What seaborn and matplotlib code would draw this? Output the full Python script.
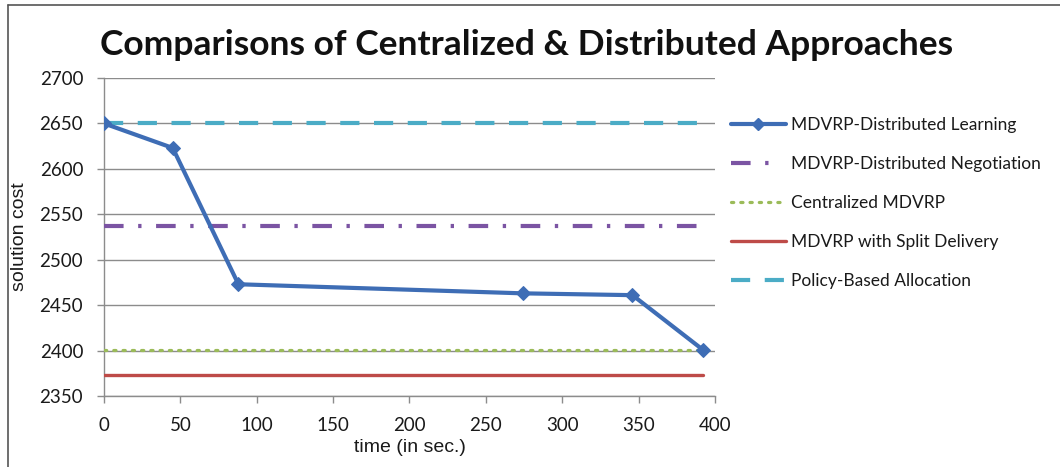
import matplotlib
matplotlib.use("Agg")
import matplotlib.pyplot as plt
import seaborn as sns
import pandas as pd
from matplotlib.lines import Line2D

# ---- data ----
learn_time = [0, 45, 88, 274, 346, 392]
learn_cost = [2650, 2623, 2473, 2463, 2461, 2401]
span_time = [0, 392]
negotiation_cost = 2537
centralized_cost = 2401
split_cost = 2373
policy_cost = 2650
series_names = ["MDVRP-Distributed Learning", "MDVRP-Distributed Negotiation",
                "Centralized MDVRP", "MDVRP with Split Delivery", "Policy-Based Allocation"]
x_ticks = [0, 50, 100, 150, 200, 250, 300, 350, 400]
y_ticks = [2350, 2400, 2450, 2500, 2550, 2600, 2650, 2700]
title = "Comparisons of Centralized & Distributed Approaches"

sns.set_theme(style="white")
plt.rcParams['font.family'] = ['Lato', 'DejaVu Sans']

fig = plt.figure(figsize=(10.6, 4.67), dpi=100)
ax = fig.add_axes([0.0981, 0.152, 0.5764, 0.681])

c_learn = "#3E6DB5"
c_neg = "#7B54A3"
c_cen = "#9BBB59"
c_split = "#BE4B48"
c_pol = "#4BACC6"

df_learn = pd.DataFrame({"t": learn_time, "c": learn_cost})
sns.lineplot(data=df_learn, x="t", y="c", ax=ax, color=c_learn, lw=3.0,
             marker="D", markersize=7, markeredgecolor=c_learn, zorder=5)

def hline(val, color, lw, dashes, z):
    d = pd.DataFrame({"t": span_time, "c": [val] * len(span_time)})
    sns.lineplot(data=d, x="t", y="c", ax=ax, color=color, lw=lw, zorder=z)
    ln = ax.lines[-1]
    if dashes is not None:
        ln.set_dashes(dashes)
    ln.set_dash_capstyle("butt")
    return ln

l_neg = hline(negotiation_cost, c_neg, 3.0, (4.7, 3.5, 0.8, 3.5), 3)
l_cen = hline(centralized_cost, c_cen, 2.3, (0.7, 2.2), 3)
l_split = hline(split_cost, c_split, 2.4, None, 3)
l_pol = hline(policy_cost, c_pol, 3.0, (4.6, 3.5), 3)
l_cen.set_dash_capstyle("round")

ax.set_xlim(0, 400)
ax.set_ylim(2350, 2700)
ax.set_xticks(x_ticks)
ax.set_yticks(y_ticks)
ax.grid(axis="y", color="#8C8C8C", lw=1.0)
ax.set_axisbelow(True)
for s in ["top", "right"]:
    ax.spines[s].set_visible(False)
for s in ["left", "bottom"]:
    ax.spines[s].set_color("#8C8C8C")
    ax.spines[s].set_linewidth(1.0)
ax.tick_params(axis="both", which="major", direction="out", length=5, width=1,
               color="#8C8C8C", labelsize=13.5, labelcolor="#1a1a1a", left=True, bottom=True)
ax.tick_params(axis="y", pad=10)
ax.tick_params(axis="x", pad=10)

ax.set_xlabel("time (in sec.)", fontsize=14, family=["Liberation Sans"], color="#1a1a1a", labelpad=4)
ax.set_ylabel("solution cost", fontsize=14, family=["Liberation Sans"], color="#1a1a1a", labelpad=8)

fig.text(0.497, 0.904, title, ha="center", va="center", fontsize=25.5, fontweight="bold", color="#111111")

handles = [
    Line2D([], [], color=c_learn, lw=3.0, marker="D", markersize=6),
    Line2D([], [], color=c_neg, lw=3.0, dashes=(4.7, 3.5, 0.8, 9.0), dash_capstyle="butt"),
    Line2D([], [], color=c_cen, lw=2.3, dashes=(0.7, 2.2), dash_capstyle="round"),
    Line2D([], [], color=c_split, lw=2.4),
    Line2D([], [], color=c_pol, lw=3.0, dashes=(4.6, 3.5), dash_capstyle="butt"),
]
leg = ax.legend(handles, series_names, loc="upper left", bbox_to_anchor=(1.0, 0.925),
                frameon=False, fontsize=12.5, handlelength=3.2, handletextpad=0.3,
                labelspacing=1.32, borderaxespad=0.5)
for t in leg.get_texts():
    t.set_color("#1a1a1a")

# outer chart frame (left and top edges visible)
fig.add_artist(Line2D([0.0075, 0.0075], [0, 0.989], transform=fig.transFigure, color="#555555", lw=1.2))
fig.add_artist(Line2D([0.0075, 1.0], [0.989, 0.989], transform=fig.transFigure, color="#555555", lw=1.2))

fig.savefig("out.png", dpi=100)
